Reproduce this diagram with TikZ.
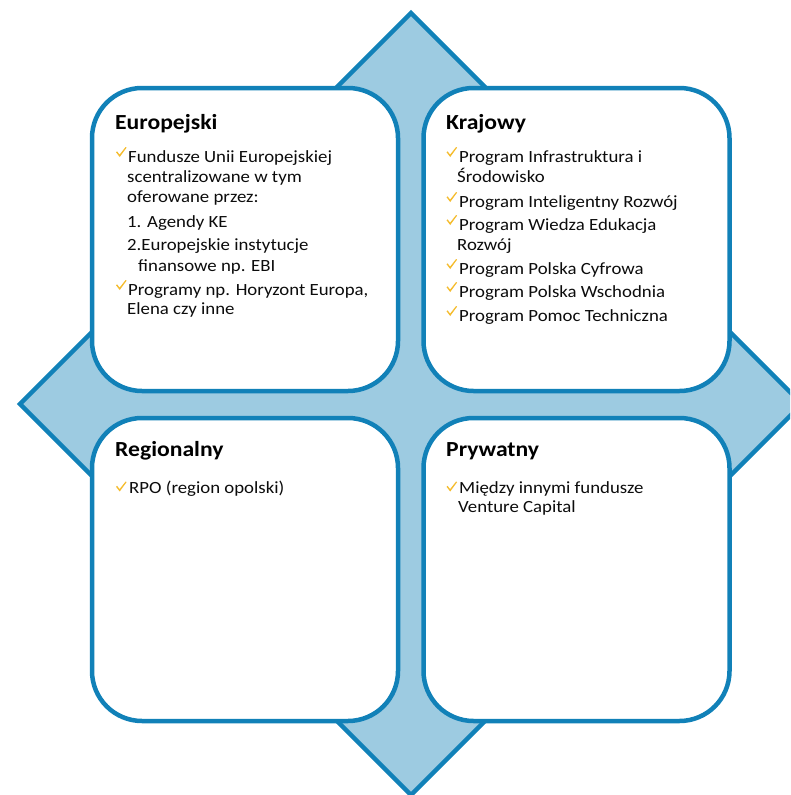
\documentclass[tikz,border=0pt]{standalone}
\usepackage{fontspec}
\setmainfont[FakeStretch=1.1]{Carlito}
\definecolor{dborder}{RGB}{17,129,184}
\definecolor{dfill}{RGB}{157,203,225}
\definecolor{chkc}{RGB}{245,188,45}
\definecolor{txtc}{RGB}{12,12,12}
\begin{document}
\begin{tikzpicture}[x=1pt,y=-1pt,
  box/.style={draw=dborder, line width=4.5pt, fill=white, rounded corners=50pt,
    minimum width=306pt, minimum height=303pt, inner sep=0pt},
  ttl/.style={anchor=base west, inner sep=0pt, text=black, font=\bfseries\fontsize{21.5}{24}\selectfont},
  txt/.style={anchor=base west, inner sep=0pt, text=txtc, font=\fontsize{17.1}{20}\selectfont},
  chkmark/.pic={\fill[chkc] (0,5.2) -- (1.1,4.4) -- (3.6,7.6) -- (9.6,0) -- (10.6,0.6) -- (3.7,10) -- cycle;}]
\useasboundingbox (0,0) rectangle (790,795);
\begin{scope}
\clip (0,0) rectangle (790,795);
% diamond
\draw[draw=dborder, fill=dfill, line width=4.5pt, line join=miter]
  (411,13) -- (802,404) -- (411,795) -- (20,404) -- cycle;
\end{scope}
% boxes
\node[box] (tl) at (245,239.5) {};
\node[box] (tr) at (576.5,239.5) {};
\node[box] (bl) at (245,569.5) {};
\node[box] (br) at (576.5,569.5) {};

% top-left: Europejski
\node[ttl] (t1) at (115,129) {Europejski};
\pic at (116,147) {chkmark};
\node[txt] (a1) at (128,162) {Fundusze Unii Europejskiej};
\node[txt] (a2) at (127,182) {scentralizowane w tym};
\node[txt] (a3) at (127,202) {oferowane przez:};
\node[txt] (a4) at (127,227) {1. Agendy KE};
\node[txt] (a5) at (127,250) {2.Europejskie instytucje};
\node[txt] (a6) at (138,271) {finansowe np. EBI};
\pic at (116,280) {chkmark};
\node[txt] (a7) at (128,295) {Programy np. Horyzont Europa,};
\node[txt] (a8) at (127,314) {Elena czy inne};

% top-right: Krajowy
\node[ttl] (t2) at (446,129) {Krajowy};
\pic at (446.5,147) {chkmark};
\node[txt] (b1) at (459,162) {Program Infrastruktura i};
\node[txt] (b2) at (457,182) {Środowisko};
\pic at (446.5,192) {chkmark};
\node[txt] (b3) at (459,207) {Program Inteligentny Rozwój};
\pic at (446.5,215) {chkmark};
\node[txt] (b4) at (459,230) {Program Wiedza Edukacja};
\node[txt] (b5) at (457,250) {Rozwój};
\pic at (446.5,259) {chkmark};
\node[txt] (b6) at (459,274) {Program Polska Cyfrowa};
\pic at (446.5,282) {chkmark};
\node[txt] (b7) at (459,297) {Program Polska Wschodnia};
\pic at (446.5,306) {chkmark};
\node[txt] (b8) at (459,321) {Program Pomoc Techniczna};

% bottom-left: Regionalny
\node[ttl] (t3) at (115,456) {Regionalny};
\pic at (116,481.5) {chkmark};
\node[txt] (r1) at (129,493) {RPO (region opolski)};

% bottom-right: Prywatny
\node[ttl] (t4) at (446,456) {Prywatny};
\pic at (446.5,481.5) {chkmark};
\node[txt] (p1) at (459,493) {Między innymi fundusze};
\node[txt] (p2) at (458,512) {Venture Capital};
\end{tikzpicture}
\end{document}
